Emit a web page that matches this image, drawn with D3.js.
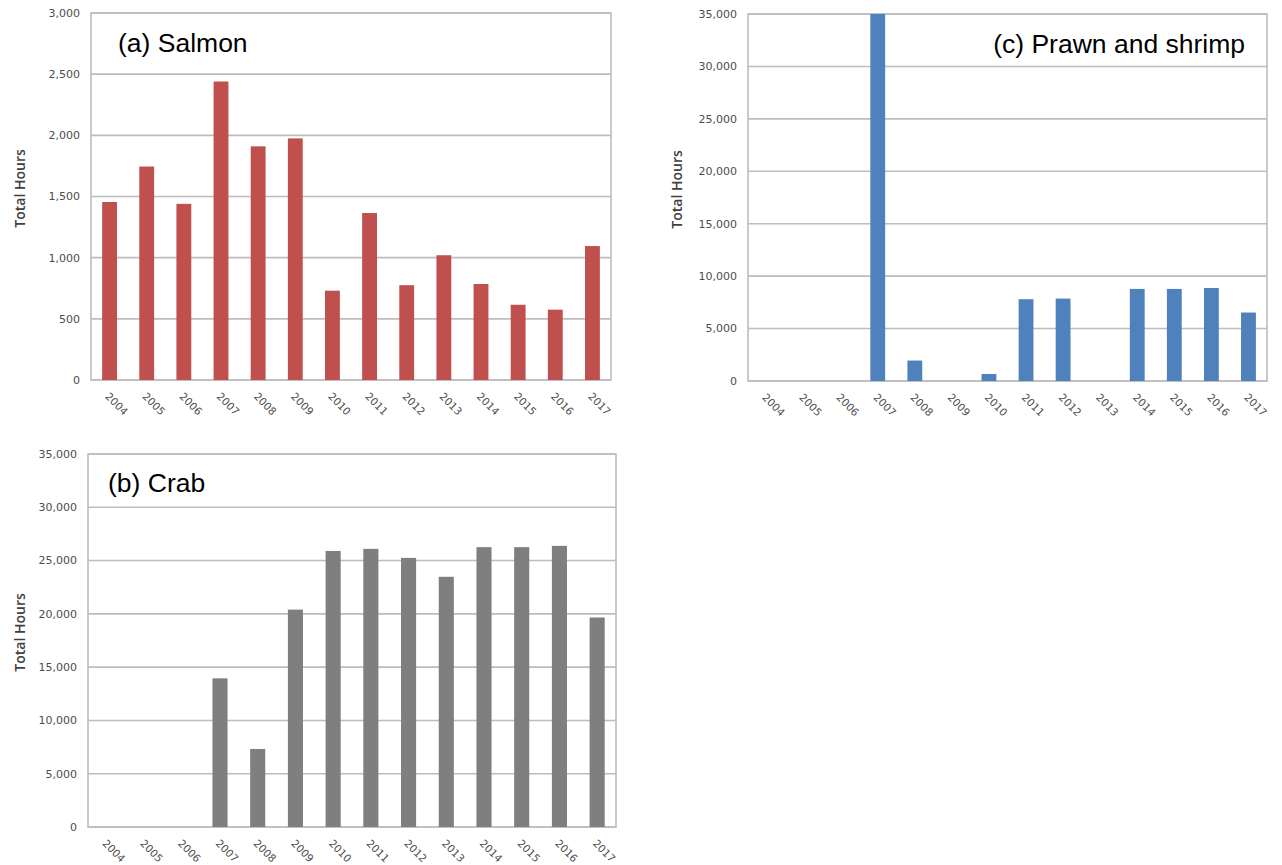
<!DOCTYPE html>
<html>
<head>
<meta charset="utf-8">
<script src="https://cdn.jsdelivr.net/npm/d3@7"></script>
<style>
  body { margin: 0; background: #fff; }
  svg { display: block; }
  .tick-y { font-family: "DejaVu Sans", sans-serif; font-size: 11px; fill: #4d4d4d; }
  .tick-x { font-family: "DejaVu Sans", sans-serif; font-size: 10.5px; fill: #4d4d4d; }
  .ytitle { font-family: "Open Sans", sans-serif; font-weight: 600; font-size: 14px; fill: #404040; }
  .ptitle { font-family: "Liberation Sans", Arial, sans-serif; font-size: 26.5px; fill: #000; }
</style>
</head>
<body>
<div id="chart"></div>
<script>
// Fishing effort (total hours) by year, three panels
const years = ['2004', '2005', '2006', '2007', '2008', '2009', '2010',
  '2011', '2012', '2013', '2014', '2015', '2016', '2017'];

const salmonHours = [1455, 1745, 1440, 2440, 1910, 1975, 730, 1365, 775, 1020, 785, 615, 575, 1095];
const crabHours = [0, 0, 0, 13950, 7320, 20400, 25900, 26100, 25250, 23480, 26260, 26260, 26380, 19660];
const prawnHours = [0, 0, 0, 35000, 1950, 0, 670, 7800, 7860, 0, 8780, 8780, 8870, 6530];

const salmonTicks = [0, 500, 1000, 1500, 2000, 2500, 3000];
const crabTicks = [0, 5000, 10000, 15000, 20000, 25000, 30000, 35000];
const prawnTicks = [0, 5000, 10000, 15000, 20000, 25000, 30000, 35000];

const W = 1282, H = 865;
const svg = d3.select('#chart').append('svg').attr('width', W).attr('height', H);

const panels = [
  { title: '(a) Salmon', values: salmonHours, ticks: salmonTicks, color: '#c0504d',
    box: { left: 91, top: 13, right: 611, bottom: 380 }, titleX: 118, titleAnchor: 'start', titleY: 52, yTitleX: 20 },
  { title: '(c) Prawn and shrimp', values: prawnHours, ticks: prawnTicks, color: '#4f81bd',
    box: { left: 748, top: 14, right: 1267, bottom: 381 }, titleX: 1245, titleAnchor: 'end', titleY: 53, yTitleX: 677 },
  { title: '(b) Crab', values: crabHours, ticks: crabTicks, color: '#7f7f7f',
    box: { left: 88, top: 454, right: 616, bottom: 827 }, titleX: 108, titleAnchor: 'start', titleY: 492, yTitleX: 20 }
];

const fmt = d3.format(',');

panels.forEach(p => {
  const b = p.box;
  const x = d3.scaleBand().domain(years).range([b.left, b.right]).paddingInner(0.6).paddingOuter(0.3);
  const y = d3.scaleLinear().domain([0, d3.max(p.ticks)]).range([b.bottom, b.top]);
  const g = svg.append('g');

  // horizontal gridlines
  g.selectAll('line.grid')
    .data(p.ticks)
    .enter()
    .append('line')
    .attr('x1', b.left).attr('x2', b.right)
    .attr('y1', d => y(d)).attr('y2', d => y(d))
    .attr('stroke', '#bdbdbd')
    .attr('stroke-width', 1.6);

  // plot frame
  g.append('rect')
    .attr('x', b.left).attr('y', b.top)
    .attr('width', b.right - b.left).attr('height', b.bottom - b.top)
    .attr('fill', 'none')
    .attr('stroke', '#bdbdbd')
    .attr('stroke-width', 1.6);

  // bars
  g.selectAll('rect.bar')
    .data(p.values.map((v, i) => ({ year: years[i], value: v })).filter(d => d.value > 0))
    .enter()
    .append('rect')
    .attr('class', 'bar')
    .attr('x', d => x(d.year))
    .attr('y', d => y(d.value))
    .attr('width', x.bandwidth())
    .attr('height', d => y(0) - y(d.value))
    .attr('fill', p.color);

  // y tick labels
  g.selectAll('text.tick-y')
    .data(p.ticks)
    .enter()
    .append('text')
    .attr('class', 'tick-y')
    .attr('x', b.left - 11)
    .attr('y', d => y(d))
    .attr('dy', '0.35em')
    .attr('text-anchor', 'end')
    .text(d => fmt(d));

  // x tick labels, rotated
  g.selectAll('text.tick-x')
    .data(years)
    .enter()
    .append('text')
    .attr('class', 'tick-x')
    .attr('text-anchor', 'start')
    .attr('transform', d => `translate(${x(d) + x.bandwidth() / 2 - 5},${b.bottom + 17}) rotate(45)`)
    .text(d => d);

  // y axis title
  const cy = (b.top + b.bottom) / 2 - 8;
  g.append('text')
    .attr('class', 'ytitle')
    .attr('text-anchor', 'middle')
    .attr('transform', `translate(${p.yTitleX + 5},${cy}) rotate(-90)`)
    .text('Total Hours');

  // panel title
  g.append('text')
    .attr('class', 'ptitle')
    .attr('x', p.titleX)
    .attr('y', p.titleY)
    .attr('text-anchor', p.titleAnchor)
    .text(p.title);
});
</script>
</body>
</html>
